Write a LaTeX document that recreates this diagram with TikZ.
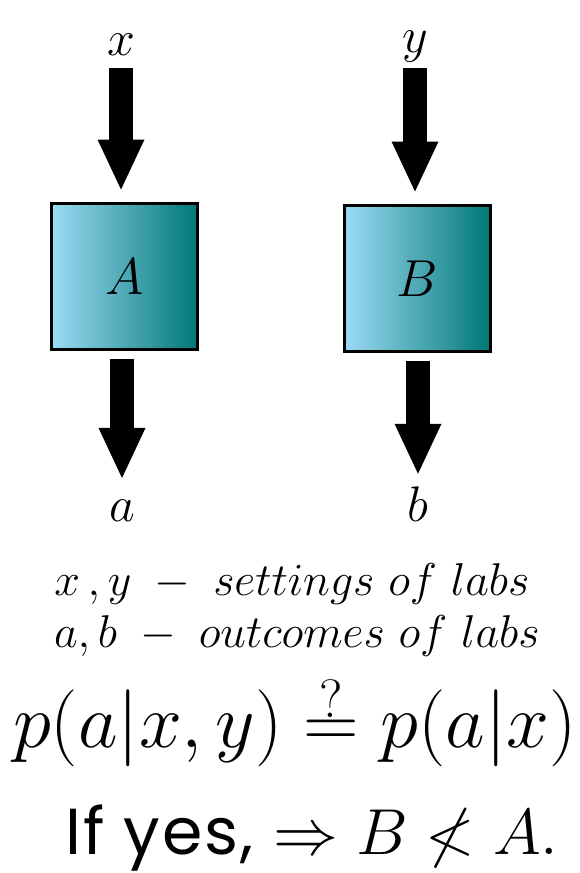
\RequirePackage{fix-cm}
\documentclass[tikz,border=0pt]{standalone}
\usepackage{fontspec}
\newfontfamily\gothic[LetterSpace=3]{Poppins}
\usetikzlibrary{arrows.meta,positioning}

\definecolor{boxlight}{RGB}{156,218,244}
\definecolor{boxdark}{RGB}{0,120,118}

\begin{document}
\begin{tikzpicture}[
  x=1pt, y=-1pt,
  lab/.style={
    draw, line width=3pt, minimum width=146pt, minimum height=146pt,
    left color=boxlight, right color=boxdark, font=\fontsize{52}{60}\selectfont,
  },
  var/.style={font=\fontsize{50}{56}\selectfont, anchor=base},
  fatarrow/.style={line width=24pt, -{Triangle[length=50pt, width=47pt, line width=0pt]}},
  note/.style={font=\fontsize{46}{54}\selectfont, anchor=base},
]
\useasboundingbox (0,0) rectangle (579,873);

% Labs
\node[lab] (A) at (124.5,276.5) {$A$};
\node[lab] (B) at (417.5,278.5) {$B$};

% Settings and outcomes
\node[var] (xin) at (121,55) {$x$};
\node[var] (yin) at (415,52) {$y$};
\node[var] (aout) at (122,521) {$a$};
\node[var] (bout) at (418,521) {$b$};

% Fat arrows in and out of the labs
\draw[fatarrow, shorten <=9.7pt, shorten >=12.5pt] (xin.south) -- (xin.south |- A.north);
\draw[fatarrow, shorten <=2.7pt, shorten >=12.5pt] (yin.south) -- (yin.south |- B.north);
\draw[fatarrow, shorten <=7.5pt] (aout.north |- A.south) -- ([yshift=18pt]aout.north);
\draw[fatarrow, shorten <=7.5pt] (bout.north |- B.south) -- ([yshift=9pt]bout.north);

% Legend and question
\node[note] (set) at (292,595) {$x\,,y\;-\; settings\ of\ labs$};
\node[note] (out) at (297,647) {$a,b\;-\; outcomes\ of\ labs$};
\node[font=\fontsize{77}{80}\selectfont, anchor=base, inner sep=0pt] (eq) at (295,747)
  {$p(a|x,y)\stackrel{?}{=}p(a|x)$};
\node[font=\fontsize{65}{72}\selectfont, anchor=base, inner sep=0pt] (ans) at (312,854)
  {{\gothic If yes,} $\Rightarrow B\not< A.$};
\end{tikzpicture}
\end{document}
